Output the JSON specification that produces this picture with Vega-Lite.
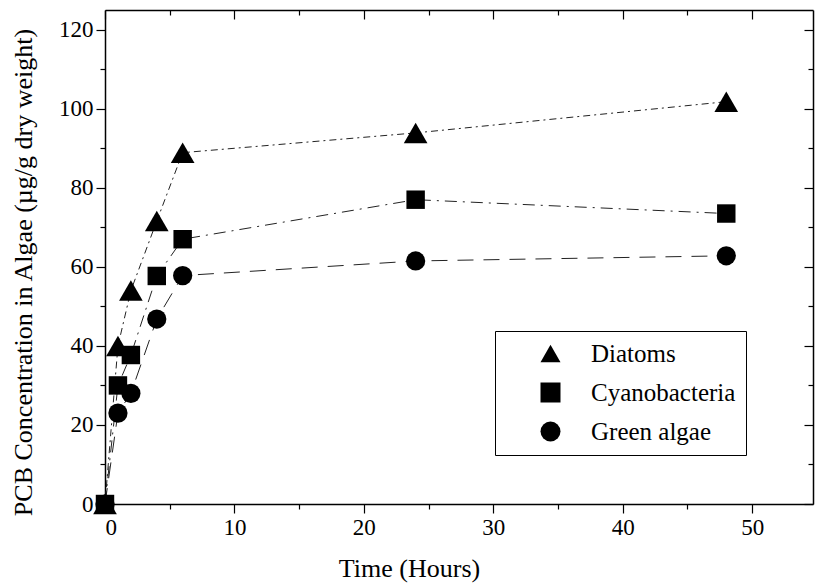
{
  "$schema": "https://vega.github.io/schema/vega-lite/v6.json",
  "width": 708,
  "height": 494,
  "autosize": {"type": "none"},
  "padding": {"left": 105, "top": 10, "right": 2, "bottom": 79},
  "background": "white",
  "config": {
    "view": {"stroke": null},
    "font": "Liberation Serif",
    "legend": {
      "labelFont": "Liberation Serif",
      "labelFontSize": 25,
      "labelColor": "black",
      "strokeColor": "black",
      "fillColor": "white"
    },
    "axis": {
      "grid": false,
      "domainColor": "black",
      "domainWidth": 1.5,
      "tickColor": "black",
      "tickWidth": 1.2,
      "labelColor": "black",
      "labelFont": "Liberation Serif",
      "labelFontSize": 23,
      "titleFont": "Liberation Serif",
      "titleFontSize": 26,
      "titleFontWeight": "normal",
      "titleColor": "black"
    }
  },
  "data": {
    "values": [
      {"series": "Diatoms", "t": 0, "v": 0},
      {"series": "Diatoms", "t": 1, "v": 40},
      {"series": "Diatoms", "t": 2, "v": 54},
      {"series": "Diatoms", "t": 4, "v": 71.6},
      {"series": "Diatoms", "t": 6, "v": 88.9},
      {"series": "Diatoms", "t": 24, "v": 93.9},
      {"series": "Diatoms", "t": 48, "v": 101.8},
      {"series": "Cyanobacteria", "t": 0, "v": 0},
      {"series": "Cyanobacteria", "t": 1, "v": 30},
      {"series": "Cyanobacteria", "t": 2, "v": 37.7},
      {"series": "Cyanobacteria", "t": 4, "v": 57.7},
      {"series": "Cyanobacteria", "t": 6, "v": 67},
      {"series": "Cyanobacteria", "t": 24, "v": 77},
      {"series": "Cyanobacteria", "t": 48, "v": 73.5},
      {"series": "Green algae", "t": 0, "v": 0},
      {"series": "Green algae", "t": 1, "v": 23},
      {"series": "Green algae", "t": 2, "v": 28},
      {"series": "Green algae", "t": 4, "v": 46.8},
      {"series": "Green algae", "t": 6, "v": 57.8},
      {"series": "Green algae", "t": 24, "v": 61.5},
      {"series": "Green algae", "t": 48, "v": 62.8}
    ]
  },
  "resolve": {"axis": {"x": "independent", "y": "independent"}},
  "layer": [
    {
      "transform": [{"filter": "datum.series === 'Diatoms'"}],
      "mark": {"type": "line", "color": "#222", "strokeWidth": 1, "strokeDash": [7, 4, 2, 4]},
      "encoding": {
        "x": {
          "field": "t", "type": "quantitative",
          "scale": {"domain": [0, 54.7], "nice": false, "zero": false},
          "axis": {
            "orient": "bottom", "values": [0, 10, 20, 30, 40, 50], "tickSize": 9, "labelPadding": 3,
            "title": "Time (Hours)", "titleX": 304, "titleY": 72, "titleBaseline": "alphabetic", "titleAlign": "center", "titleAnchor": null
          }
        },
        "y": {
          "field": "v", "type": "quantitative",
          "scale": {"domain": [0, 125], "nice": false},
          "axis": {
            "orient": "left", "values": [0, 20, 40, 60, 80, 100, 120], "tickSize": 9, "labelPadding": 3,
            "title": "PCB Concentration in Algae (µg/g dry weight)", "titleX": -74, "titleY": 262, "titleAngle": -90, "titleBaseline": "alphabetic", "titleAlign": "center", "titleAnchor": null
          }
        }
      }
    },
    {
      "transform": [{"filter": "datum.series === 'Cyanobacteria'"}],
      "mark": {"type": "line", "color": "#222", "strokeWidth": 1, "strokeDash": [12, 6, 2, 6]},
      "encoding": {
        "x": {"field": "t", "type": "quantitative", "axis": null},
        "y": {"field": "v", "type": "quantitative", "axis": null}
      }
    },
    {
      "transform": [{"filter": "datum.series === 'Green algae'"}],
      "mark": {"type": "line", "color": "#222", "strokeWidth": 1, "strokeDash": [16, 10]},
      "encoding": {
        "x": {"field": "t", "type": "quantitative", "axis": null},
        "y": {"field": "v", "type": "quantitative", "axis": null}
      }
    },
    {
      "transform": [{"filter": "datum.series === 'Diatoms'"}],
      "mark": {"type": "point", "filled": true, "color": "black", "opacity": 1, "size": 560},
      "encoding": {
        "x": {"field": "t", "type": "quantitative", "axis": null},
        "y": {"field": "v", "type": "quantitative", "axis": null},
        "shape": {
          "field": "series", "type": "nominal",
          "scale": {"domain": ["Diatoms", "Cyanobacteria", "Green algae"], "range": ["triangle-up", "square", "circle"]},
          "legend": {
            "title": null, "orient": "none", "legendX": 390, "legendY": 321,
            "padding": 10, "strokeColor": "black", "fillColor": "white",
            "symbolSize": 400, "symbolFillColor": "black", "symbolStrokeColor": "black", "symbolStrokeWidth": 0,
            "symbolOffset": 33, "labelOffset": 28, "labelFont": "Liberation Serif", "labelFontSize": 25, "labelColor": "black",
            "rowPadding": 13, "labelLimit": 300
          }
        }
      }
    },
    {
      "transform": [{"filter": "datum.series === 'Cyanobacteria'"}],
      "mark": {"type": "point", "filled": true, "color": "black", "opacity": 1, "size": 340},
      "encoding": {
        "x": {"field": "t", "type": "quantitative", "axis": null},
        "y": {"field": "v", "type": "quantitative", "axis": null},
        "shape": {"field": "series", "type": "nominal"}
      }
    },
    {
      "transform": [{"filter": "datum.series === 'Green algae'"}],
      "mark": {"type": "point", "filled": true, "color": "black", "opacity": 1, "size": 370},
      "encoding": {
        "x": {"field": "t", "type": "quantitative", "axis": null},
        "y": {"field": "v", "type": "quantitative", "axis": null},
        "shape": {"field": "series", "type": "nominal"}
      }
    },
    {
      "mark": {"type": "point", "opacity": 0},
      "encoding": {
        "x": {"field": "t", "type": "quantitative", "axis": {"orient": "bottom", "values": [5, 15, 25, 35, 45], "tickSize": 5, "labels": false, "domain": false, "title": null}},
        "y": {"field": "v", "type": "quantitative", "axis": {"orient": "left", "values": [10, 30, 50, 70, 90, 110], "tickSize": 5, "labels": false, "domain": false, "title": null}}
      }
    },
    {
      "mark": {"type": "point", "opacity": 0},
      "encoding": {
        "x": {"field": "t", "type": "quantitative", "axis": {"orient": "top", "values": [0, 10, 20, 30, 40, 50], "tickSize": -9, "labels": false, "title": null}},
        "y": {"field": "v", "type": "quantitative", "axis": {"orient": "right", "values": [0, 20, 40, 60, 80, 100, 120], "tickSize": -9, "labels": false, "title": null}}
      }
    },
    {
      "mark": {"type": "point", "opacity": 0},
      "encoding": {
        "x": {"field": "t", "type": "quantitative", "axis": {"orient": "top", "values": [5, 15, 25, 35, 45], "tickSize": -5, "labels": false, "domain": false, "title": null}},
        "y": {"field": "v", "type": "quantitative", "axis": {"orient": "right", "values": [10, 30, 50, 70, 90, 110], "tickSize": -5, "labels": false, "domain": false, "title": null}}
      }
    }
  ]
}
